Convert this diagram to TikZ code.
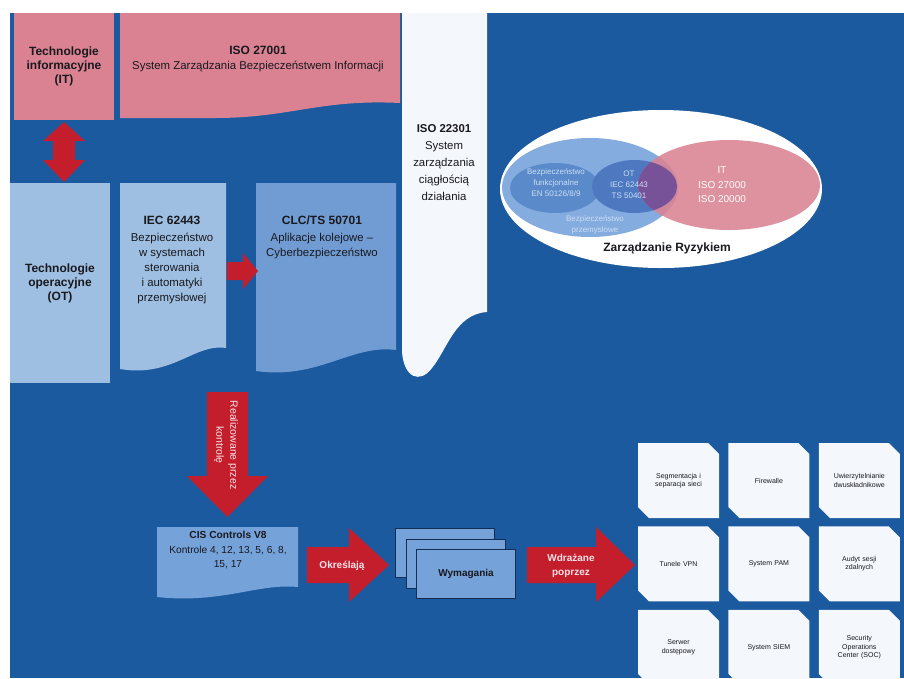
\documentclass[tikz,border=0pt]{standalone}
\usepackage{fontspec}
\setmainfont{Liberation Sans}
\usetikzlibrary{positioning}

\definecolor{bgblue}{RGB}{27,90,158}
\definecolor{itpink}{RGB}{218,130,146}
\definecolor{otlight}{RGB}{158,191,226}
\definecolor{clcblue}{RGB}{112,156,211}
\definecolor{paper}{RGB}{244,247,252}
\definecolor{arrowred}{RGB}{196,30,45}
\definecolor{ringblue}{RGB}{132,172,222}
\definecolor{funcblue}{RGB}{90,138,202}
\definecolor{otblue}{RGB}{78,120,192}
\definecolor{mixpurple}{RGB}{120,82,152}
\definecolor{reqblue}{RGB}{118,162,218}
\definecolor{reqedge}{RGB}{20,45,85}
\definecolor{inktext}{RGB}{25,25,30}
\definecolor{palelabel}{RGB}{205,222,244}
\definecolor{arrowtext}{RGB}{250,228,232}

\tikzset{
  txt/.style={text=inktext,align=center,inner sep=0pt,font=\fontsize{11.4}{15}\selectfont},
  headtxt/.style={txt,font=\bfseries\fontsize{12}{14}\selectfont},
  redfill/.style={fill=arrowred},
  arrowlabel/.style={text=arrowtext,align=center,inner sep=0pt,font=\bfseries\fontsize{10}{14}\selectfont},
  venntxt/.style={text=palelabel,align=center,inner sep=0pt,font=\fontsize{8}{11}\selectfont},
  reqcard/.style={draw=reqedge,fill=reqblue,line width=1pt,minimum width=99pt,minimum height=49pt},
  tile/.style={minimum width=81pt,minimum height=75pt,inner sep=2pt,text width=70pt,align=center,
    text=inktext,font=\fontsize{7}{8.5}\selectfont,
    path picture={\fill[paper] (path picture bounding box.north west)
      -- ([xshift=-11pt]path picture bounding box.north east)
      -- ([yshift=-11pt]path picture bounding box.north east)
      -- (path picture bounding box.south east)
      -- ([xshift=11pt]path picture bounding box.south west)
      -- ([yshift=11pt]path picture bounding box.south west) -- cycle;}},
}

\begin{document}
\begin{tikzpicture}[x=1pt,y=-1pt,node distance=8pt and 9pt]
  \useasboundingbox (0,0) rectangle (904,678);
  \fill[white] (0,0) rectangle (904,678);
  \fill[bgblue] (10,13) rectangle (904,678);

  % upper half: standards
  \fill[itpink] (14,13) rectangle (114,120);
  \fill[itpink] (120,13) -- (400,13) -- (400,103)
    .. controls (320,99) and (290,118) .. (215,118) -- (120,118) -- cycle;
  \fill[paper] (402,13) -- (487,13) -- (487,312)
    .. controls (455,314) and (447,350) .. (432,368)
    .. controls (420,384) and (404,378) .. (402,352) -- cycle;
  \fill[otlight] (10,183) rectangle (110,383);
  \fill[otlight] (120,183) -- (226,183) -- (226,348)
    .. controls (195,343) and (172,378) .. (120,369) -- cycle;
  \fill[clcblue] (256,183) -- (396,183) -- (396,350)
    .. controls (352,344) and (318,380) .. (256,371) -- cycle;

  \fill[redfill] (64,122) -- (85,141) -- (75,141) -- (75,160) -- (85,160) -- (64,182)
    -- (43,160) -- (53,160) -- (53,141) -- (43,141) -- cycle;
  \fill[redfill] (227,262) -- (243,262) -- (243,253) -- (258,271) -- (243,289)
    -- (243,280) -- (227,280) -- cycle;

  \node[headtxt] (itlabel) at (64,66) {Technologie\\informacyjne\\(IT)};
  \node[txt] (isoit) at (258,59) {{\bfseries\fontsize{12}{14}\selectfont ISO 27001}\\System Zarządzania Bezpieczeństwem Informacji};
  \node[txt,font=\fontsize{11.4}{17}\selectfont] (isobcm) at (444,163)
    {{\bfseries ISO 22301}\\System\\zarządzania\\ciągłością\\działania};
  \node[headtxt] (otlabel) at (60,283) {Technologie\\operacyjne\\(OT)};
  \node[txt,anchor=north] (ieclabel) at (172,216)
    {{\bfseries\fontsize{12}{14}\selectfont IEC 62443}\\[2pt]Bezpieczeństwo\\w systemach\\sterowania\\i automatyki\\przemysłowej};
  \node[txt,anchor=north] (clclabel) at (322,216)
    {{\bfseries\fontsize{12}{14}\selectfont CLC/TS 50701}\\[2pt]Aplikacje kolejowe –\\Cyberbezpieczeństwo};

  % risk management ellipses
  \fill[white] (661,189) ellipse [x radius=161, y radius=79];
  \fill[ringblue] (590,187.5) ellipse [x radius=88, y radius=49.5];
  \fill[funcblue] (555,188) ellipse [x radius=45, y radius=25];
  \fill[otblue] (634.5,186.5) ellipse [x radius=42.5, y radius=26.5];
  \fill[itpink,fill opacity=0.88] (729,185) ellipse [x radius=91, y radius=45];
  \begin{scope}
    \clip (729,185) ellipse [x radius=91, y radius=45];
    \fill[mixpurple] (634.5,186.5) ellipse [x radius=42.5, y radius=26.5];
  \end{scope}
  \node[venntxt] (funclabel) at (556,183) {Bezpieczeństwo\\funkcjonalne\\EN 50126/8/9};
  \node[venntxt] (otiec) at (629,185) {OT\\IEC 62443\\TS 50401};
  \node[venntxt] (indlabel) at (595,225) {Bezpieczeństwo\\przemysłowe};
  \node[txt,text=white,font=\fontsize{10}{14.5}\selectfont] (itiso) at (722,185) {IT\\ISO 27000\\ISO 20000};
  \node[headtxt] (riskname) at (667,248) {Zarządzanie Ryzykiem};

  % lower half: controls and requirements
  \fill[redfill] (207,392) -- (248,392) -- (248,476) -- (268,476) -- (227.5,517)
    -- (187,476) -- (207,476) -- cycle;
  \node[arrowlabel,font=\fontsize{10.5}{14}\selectfont,rotate=-90] (realize) at (226,445)
    {Realizowane przez\\kontrolę};

  \fill[reqblue] (157,527) -- (298,527) -- (298,587)
    .. controls (258,583) and (222,604) .. (157,597) -- cycle;
  \node[txt,anchor=north,font=\fontsize{10.2}{14.5}\selectfont] (cislabel) at (228,531)
    {{\bfseries CIS Controls V8}\\Kontrole 4, 12, 13, 5, 6, 8,\\15, 17};

  \fill[redfill] (307,547) -- (349,547) -- (349,528) -- (389,565) -- (349,602)
    -- (349,583) -- (307,583) -- cycle;
  \node[arrowlabel] (defines) at (342,566) {Określają};

  \node[reqcard] (req1) at (444.5,552.5) {};
  \node[reqcard] (req2) at (455.5,563.5) {};
  \node[reqcard,font=\bfseries\fontsize{10}{12}\selectfont,text=inktext] (req3) at (466,574) {Wymagania};

  \fill[redfill] (527,547) -- (596,547) -- (596,527) -- (635,565) -- (596,602)
    -- (596,583) -- (527,583) -- cycle;
  \node[arrowlabel] (applied) at (571,566) {Wdrażane\\poprzez};

  % measures
  \node[tile] (segm) at (678.5,480.5) {Segmentacja i\\separacja sieci};
  \node[tile] (firewall) [right=of segm]     {Firewalle};
  \node[tile] (mfa)      [right=of firewall] {Uwierzytelnianie\\dwuskładnikowe};
  \node[tile] (vpn)      [below=of segm]     {Tunele VPN};
  \node[tile] (pam)      [right=of vpn]      {System PAM};
  \node[tile] (audit)    [right=of pam]      {Audyt sesji\\zdalnych};
  \node[tile] (jump)     [below=of vpn]      {Serwer\\dostępowy};
  \node[tile] (siem)     [right=of jump]     {System SIEM};
  \node[tile] (soc)      [right=of siem]     {Security\\Operations\\Center (SOC)};
\end{tikzpicture}
\end{document}
